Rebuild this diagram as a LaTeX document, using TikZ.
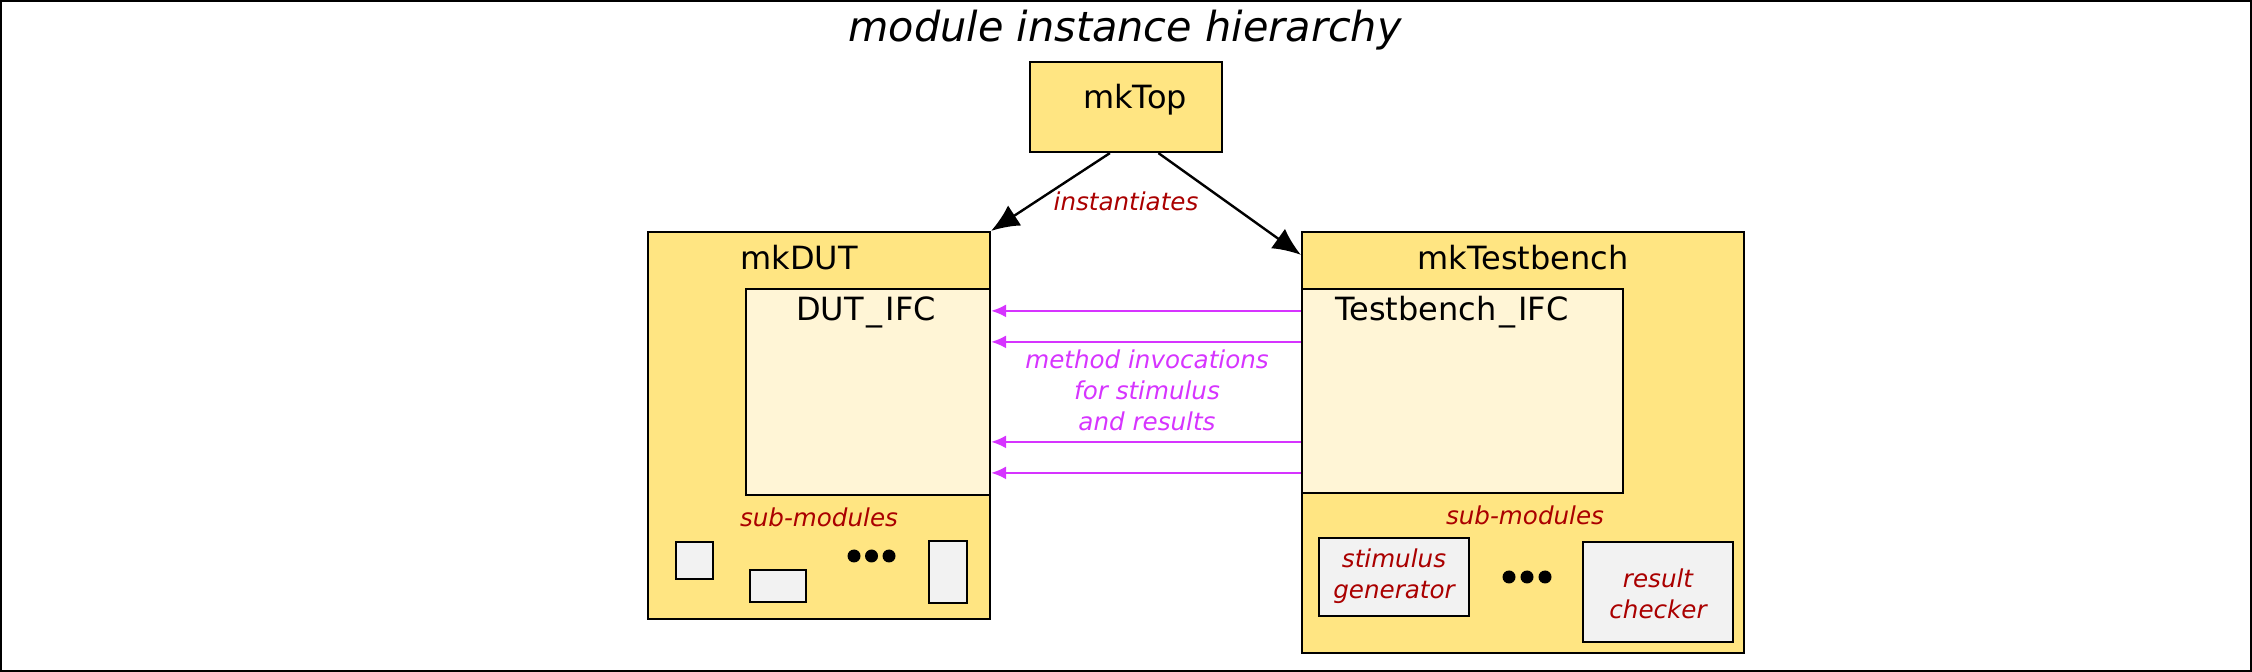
\documentclass[tikz,border=0pt]{standalone}
\usepackage{fontspec}
\setmainfont{DejaVu Sans}
\usetikzlibrary{arrows.meta,calc,fit}
\definecolor{ylw}{RGB}{255,229,130}
\definecolor{lylw}{RGB}{255,245,214}
\definecolor{gry}{RGB}{242,242,242}
\definecolor{dred}{RGB}{170,0,0}
\definecolor{mgn}{RGB}{214,52,255}
\newcommand{\wus}{\kern1.5pt\_\kern1.5pt}
\begin{document}
\begin{tikzpicture}[x=0.5pt,y=-0.5pt,
  box/.style={draw=black, line width=1.1pt, inner sep=0pt},
  modbox/.style={box, fill=ylw},
  ifcbox/.style={box, fill=lylw},
  subbox/.style={box, fill=gry},
  lbl/.style={font=\fontsize{16}{19}\selectfont, anchor=base, inner sep=0pt},
  ital/.style={font=\fontsize{12.3}{15.5}\selectfont\itshape, text=dred, inner sep=0pt, align=center},
  marrow/.style={draw=mgn, line width=1pt, -{Latex[length=7.5pt,width=6.5pt]}},
  barrow/.style={draw=black, line width=1.2pt, -{Latex[length=14pt,width=12pt]}},
  dot/.style={fill=black}
]
\useasboundingbox (0,0) rectangle (2252,672);
\draw[line width=0.8pt] (1,1) rectangle (2251,671);

\node[font=\fontsize{20.7}{24}\selectfont\itshape, anchor=base, inner sep=0pt] (title) at (1125,42) {module instance hierarchy};

% mkTop
\node[modbox, fit={(1030,62) (1222,152)}] (mkTop) {};
\node[lbl] (mkTopL) at (1135,109) {mkTop};

% mkDUT
\node[modbox, fit={(648,232) (990,619)}] (mkDUT) {};
\node[lbl] (mkDUTL) at (799,270) {mkDUT};
\node[ifcbox, fit={(746,289) (990,495)}] (DUTIFC) {};
\node[lbl] (DUTIFCL) at (866,321) {DUT\wus IFC};
\node[ital, anchor=base] (subA) at (819,527) {sub-modules};
\node[subbox, fit={(676,542) (713,579)}] (s1) {};
\node[subbox, fit={(750,570) (806,602)}] (s2) {};
\node[subbox, fit={(929,541) (967,603)}] (s3) {};
\fill[dot] (854,556) circle (6.5);
\fill[dot] (871.5,556) circle (6.5);
\fill[dot] (889,556) circle (6.5);

% mkTestbench
\node[modbox, fit={(1302,232) (1744,653)}] (mkTB) {};
\node[lbl] (mkTBL) at (1523,270) {mkTestbench};
\node[ifcbox, fit={(1302,289) (1623,493)}] (TBIFC) {};
\node[lbl] (TBIFCL) at (1452,321) {Testbench\wus IFC};
\node[ital, anchor=base] (subB) at (1525,525) {sub-modules};
\node[subbox, fit={(1319,538) (1469,616)}] (stim) {};
\node[ital] (stimL) at (1394,576) {stimulus\\generator};
\node[subbox, fit={(1583,542) (1733,642)}] (res) {};
\node[ital] (resL) at (1658,594) {result\\checker};
\fill[dot] (1509,577) circle (6.5);
\fill[dot] (1527,577) circle (6.5);
\fill[dot] (1545,577) circle (6.5);

% instantiation arrows
\draw[barrow] ($(mkTop.south west)!0.417!(mkTop.south east)$) -- (mkDUT.north east);
\draw[barrow] ($(mkTop.south west)!0.667!(mkTop.south east)$) -- ($(mkTB.north west)+(0,24)$);
\node[ital, anchor=base] (inst) at (1126,211) {instantiates};

% method invocation arrows
\draw[marrow] ($(TBIFC.north west)+(0,23)$) -- ($(DUTIFC.north east)+(0,23)$);
\draw[marrow] ($(TBIFC.north west)+(0,54)$) -- ($(DUTIFC.north east)+(0,54)$);
\draw[marrow] ($(TBIFC.north west)+(0,154)$) -- ($(DUTIFC.north east)+(0,154)$);
\draw[marrow] ($(TBIFC.north west)+(0,185)$) -- ($(DUTIFC.north east)+(0,185)$);
\node[ital, text=mgn] (meth) at (1147,390.5) {method invocations\\for stimulus\\and results};
\end{tikzpicture}
\end{document}
